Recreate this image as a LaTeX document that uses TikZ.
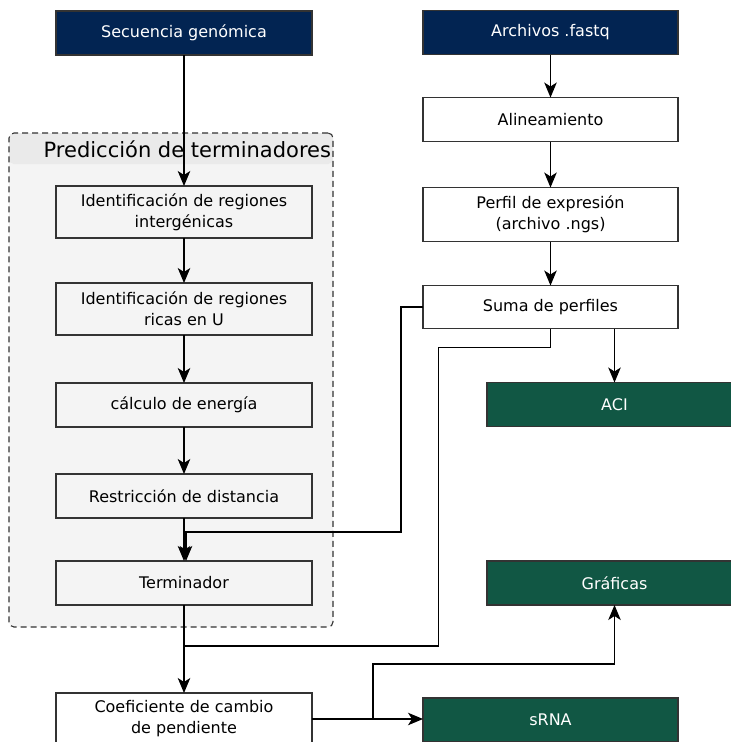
\documentclass[tikz,border=0pt]{standalone}
\usepackage{fontspec}
\setmainfont{DejaVu Sans}
\usetikzlibrary{arrows.meta,positioning}

\definecolor{navyin}{HTML}{022452}
\definecolor{greenout}{HTML}{115744}
\definecolor{groupfill}{HTML}{F4F4F4}
\definecolor{groupband}{HTML}{EAEAEA}

\begin{document}
\begin{tikzpicture}[
  x=1pt, y=-1pt,
  node distance=44pt and 44pt,
  every node/.style={align=center, font=\fontsize{16}{21}\selectfont, inner sep=0pt, outer sep=0pt},
  input/.style={rectangle, draw=black!80, line width=1.1pt, fill=navyin, text=white, minimum width=256pt, minimum height=44pt},
  procbox/.style={rectangle, draw=black!80, line width=1.1pt, fill=white, minimum width=256pt, minimum height=44pt},
  subbox/.style={procbox, fill=groupfill},
  output/.style={rectangle, draw=black!80, line width=1.1pt, fill=greenout, text=white, minimum width=255pt, minimum height=44pt},
  groupbox/.style={rectangle, rounded corners=5pt, draw=black!80, dash pattern=on 6pt off 4pt, line width=1.1pt, fill=groupfill,
    path picture={\fill[groupband] (path picture bounding box.north west) rectangle ([yshift=-31pt]path picture bounding box.north east);}},
  arrow/.style={-{Stealth[length=15pt, width=12.5pt, inset=4pt]}, line width=1.1pt}
]
\path[use as bounding box, clip] (0,0) rectangle (731,742);

% --- GROUP (Prediccion de terminadores) ---
\node[groupbox, minimum width=324pt, minimum height=494pt] (pred) at (171,380) {};
\node[anchor=east, font=\fontsize{21}{24}\selectfont] (predtitle) at ([xshift=-2pt, yshift=-16pt]pred.north east) {Predicción de terminadores};

% --- LEFT COLUMN ---
\node[input] (seq) at (184,33) {Secuencia genómica};
\node[subbox, minimum height=52pt, below=131pt of seq] (ident1) {Identificación de regiones\\intergénicas};
\node[subbox, minimum height=52pt, below=45pt of ident1] (ident2) {Identificación de regiones\\ricas en U};
\node[subbox, below=48pt of ident2] (calc) {cálculo de energía};
\node[subbox, below=47pt of calc] (restr) {Restricción de distancia};
\node[subbox, below=43pt of restr] (term) {Terminador};
\node[procbox, minimum height=52pt, below=88pt of term] (coef) {Coeficiente de cambio\\de pendiente};

% --- RIGHT COLUMN ---
\node[input, minimum width=255pt] (fastq) at (550.5,32.5) {Archivos .fastq};
\node[procbox, minimum width=255pt, below=43pt of fastq] (align) {Alineamiento};
\node[procbox, minimum width=255pt, minimum height=54pt, below=46pt of align] (perfil) {Perfil de expresión\\(archivo .ngs)};
\node[procbox, minimum width=255pt, minimum height=43pt, below=44pt of perfil] (suma) {Suma de perfiles};

% --- OUTPUTS ---
\node[output] (aci) at (614.5,404.5) {ACI};
\node[output] (graf) at (614.5,583) {Gráficas};
\node[output] (srna) at (550.5,720) {sRNA};

% --- MAIN FLOW ---
\draw[arrow] (seq) -- (ident1);
\draw[arrow] (ident1) -- (ident2);
\draw[arrow] (ident2) -- (calc);
\draw[arrow] (calc) -- (restr);
\draw[arrow] (restr) -- (term);
\draw[arrow] (term) -- (coef);

\draw[arrow] (fastq) -- (align);
\draw[arrow] (align) -- (perfil);
\draw[arrow] (perfil) -- (suma);
\draw[arrow] (aci.north |- suma.south) -- (aci.north);

% --- PROFILES INTO THE PREDICTION ---
\draw[arrow] (suma.west) -- ++(-22,0) -- ++(0,225) -| ([xshift=2pt]term.north);
\coordinate (join) at (term.south |- 0,646);
\draw[line width=1.1pt] (suma.south) -- ++(0,19) -- ++(-112,0) |- (join);

% --- SLOPE TO OUTPUTS ---
\draw[arrow] (coef.east) -- (coef.east -| srna.west);
\draw[arrow] ([xshift=61pt]coef.east) -- ++(0,-55) -| (graf.south);

\end{tikzpicture}
\end{document}
